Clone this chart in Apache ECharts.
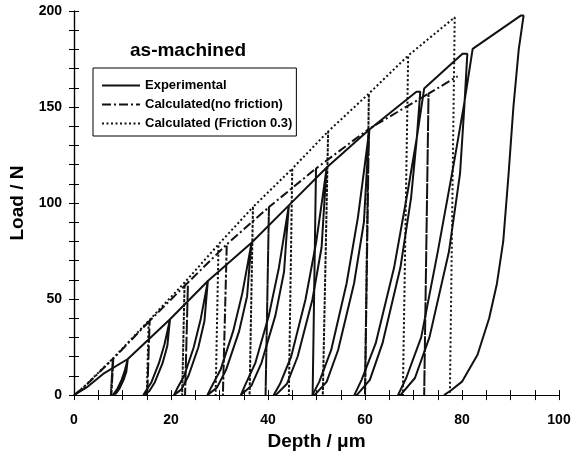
<!DOCTYPE html>
<html>
<head>
<meta charset="utf-8">
<script src="https://cdn.jsdelivr.net/npm/echarts@6/dist/echarts.min.js"></script>
<style>
  html, body { margin: 0; padding: 0; background: #fff; }
  #main { width: 583px; height: 456px; }
</style>
</head>
<body>
<div id="main"></div>
<script>
// experimental curve: start of loading, peaks, unloading and reloading branches (depth um, load N)
var expStart = [[0, 0], [2.6, 4], [6, 11]];
var expPeaks = [[11.1, 18.8], [19.8, 39.5], [27.6, 59.4], [36.6, 79.3], [44.3, 98.8],
    [52.1, 118.5], [60.9, 138.3], [70.6, 158], [80.1, 177.7], [92.1, 197.6]];
var expUnload = [
    [[10.96, 16.0], [10.79, 12.2], [10.23, 7.9], [9.33, 3.2], [8.68, 0.9], [8.0, 0]],
    [[19.55, 33.6], [19.25, 25.7], [18.26, 16.6], [16.67, 6.7], [15.51, 2.0], [14.3, 0]],
    [[27.29, 50.5], [26.90, 38.6], [25.64, 24.9], [23.61, 10.1], [22.14, 3.0], [20.6, 0]],
    [[36.19, 67.4], [35.69, 51.5], [34.05, 33.3], [31.41, 13.5], [29.5, 4.0], [27.5, 0]],
    [[43.85, 84.0], [43.31, 64.2], [41.53, 41.5], [38.66, 16.8], [36.58, 4.9], [34.4, 0]],
    [[51.63, 100.7], [51.05, 77.0], [49.16, 49.8], [46.12, 20.1], [43.91, 5.9], [41.6, 0]],
    [[60.39, 117.6], [59.77, 89.9], [57.74, 58.1], [54.46, 23.5], [52.09, 6.9], [49.6, 0]],
    [[71.4, 158], [70.7, 134.3], [69.5, 102.7], [67.3, 66.4], [63.6, 26.9], [61.0, 7.9], [58.3, 0]],
    [[81.1, 177.7], [80.5, 151], [79.6, 115.5], [77.3, 74.6], [73.3, 30.2], [70.3, 8.9], [67.3, 0]],
    [[92.7, 197.6], [91.7, 180], [90.6, 150], [89.6, 115], [88.5, 80], [87.2, 58], [85.6, 40],
        [83.2, 21], [80.0, 7], [77.7, 2.4], [76.3, 0]]
];
var expReload = [
    [[7.88, 0], [8.27, 0.9], [8.94, 3.2], [9.81, 7.9], [10.46, 12.6], [10.81, 16.0], [11.1, 18.8]],
    [[14.08, 0], [14.77, 2.0], [15.97, 6.7], [17.51, 16.6], [18.66, 26.5], [19.29, 33.6], [19.8, 39.5]],
    [[20.32, 0], [21.19, 3.0], [22.72, 10.1], [24.69, 24.9], [26.14, 39.8], [26.94, 50.5], [27.6, 59.4]],
    [[27.14, 0], [28.28, 4.0], [30.26, 13.5], [32.82, 33.3], [34.71, 53.1], [35.75, 67.4], [36.6, 79.3]],
    [[34.0, 0], [35.24, 4.9], [37.4, 16.8], [40.18, 41.5], [42.24, 66.2], [43.37, 84.0], [44.3, 98.8]],
    [[41.18, 0], [42.49, 5.9], [44.78, 20.1], [47.73, 49.8], [49.92, 79.4], [51.12, 100.7], [52.1, 118.5]],
    [[49.15, 0], [50.56, 6.9], [53.03, 23.5], [56.2, 58.1], [58.55, 92.7], [59.84, 117.6], [60.9, 138.3]],
    [[57.8, 0], [59.3, 7.9], [62.2, 26.9], [66.0, 66.4], [68.8, 105.9], [70.7, 134.3], [72.2, 159.6]],
    [[66.8, 0], [68.5, 8.9], [71.6, 30.2], [75.0, 74.6], [78.2, 119], [80.4, 151], [82.2, 180.3]],
    []
];

// calculated, friction 0.3: peak before each unloading and depth where it reaches zero load
var fricStart = [[0, 0], [2.0, 4.2]];
var fricPeaks = [[8.0, 19.0], [15.4, 38.7], [22.8, 58.6], [29.8, 78.5], [36.9, 97.9],
    [45.0, 117.9], [52.4, 137.3], [60.8, 157.0], [68.9, 176.8], [78.5, 196.7]];
var fricResidual = [7.6, 15.0, 22.3, 29.2, 36.2, 44.3, 51.3, 60.0, 67.8, 77.5];

// calculated, no friction
var noFricStart = [[0, 0], [2.0, 4.0]];
var noFricPeaks = [[8.1, 19.0], [15.6, 38.7], [23.5, 58.6], [31.5, 78.5], [40.2, 97.9],
    [49.9, 118.0], [60.8, 138.6], [73.1, 157.0]];
var noFricResidual = [7.7, 15.1, 22.9, 30.7, 39.5, 49.2, 60.0, 72.2];
var noFricEnd = [79.1, 166];

var names = ['Experimental', 'Calculated(no friction)', 'Calculated (Friction 0.3)'];

function buildExp() {
    var d = expStart.slice();
    for (var i = 0; i < expPeaks.length; i++) {
        d.push(expPeaks[i]);
        d = d.concat(expUnload[i], expReload[i]);
    }
    return d;
}
function buildCalc(start, peaks, res, end) {
    var d = start.slice();
    for (var i = 0; i < peaks.length; i++) {
        d.push(peaks[i]);
        d.push([res[i], 0]);
        if (i < peaks.length - 1 || end) d.push(peaks[i]);
    }
    if (end) d.push(end);
    return d;
}

var font = "'Liberation Sans', Arial, sans-serif";
var axisCommon = {
    min: 0,
    axisLine: { lineStyle: { color: '#000', width: 1.2 } },
    axisTick: { inside: true, length: 5, lineStyle: { color: '#000' } },
    splitLine: { show: false }
};

var myChart = echarts.init(document.getElementById('main'));
myChart.setOption({
    animation: false,
    backgroundColor: '#fff',
    title: {
        text: 'as-machined', left: 125, top: 36,
        textStyle: { fontFamily: font, fontWeight: 'bold', fontSize: 19, color: '#000' }
    },
    legend: {
        data: names, orient: 'vertical', left: 93, top: 68,
        backgroundColor: '#fff',
        borderColor: '#000', borderWidth: 1, borderRadius: 0,
        padding: [10, 4, 5, 8], itemGap: 4, itemWidth: 38, itemHeight: 14,
        itemStyle: { color: 'rgba(0,0,0,0)', borderWidth: 0, borderColor: 'rgba(0,0,0,0)' },
        textStyle: { fontFamily: font, fontWeight: 'bold', fontSize: 13, lineHeight: 15, color: '#000' }
    },
    grid: { left: 74, right: 24, top: 11, bottom: 58 },
    xAxis: [
        Object.assign({}, axisCommon, {
            type: 'value', max: 100, interval: 20,
            minorTick: { show: true, splitNumber: 4, length: 5, lineStyle: { color: '#000' } },
            name: 'Depth / μm', nameLocation: 'middle', nameGap: 21,
            nameTextStyle: { fontFamily: font, fontWeight: 'bold', fontSize: 19, color: '#000' },
            axisLabel: { margin: 18, fontFamily: font, fontWeight: 'bold', fontSize: 14, color: '#000' }
        }),
        Object.assign({}, axisCommon, {
            type: 'value', max: 100, interval: 20, position: 'top',
            minorTick: { show: true, splitNumber: 4, length: 5, lineStyle: { color: '#000' } },
            axisLabel: { show: false }
        })
    ],
    yAxis: [
        Object.assign({}, axisCommon, {
            type: 'value', max: 200, interval: 50,
            minorTick: { show: true, splitNumber: 5, length: 5, lineStyle: { color: '#000' } },
            name: 'Load / N', nameLocation: 'middle', nameGap: 40,
            nameTextStyle: { fontFamily: font, fontWeight: 'bold', fontSize: 19, color: '#000' },
            axisLabel: { margin: 12, fontFamily: font, fontWeight: 'bold', fontSize: 14, color: '#000' }
        }),
        Object.assign({}, axisCommon, {
            type: 'value', max: 200, interval: 50, position: 'right',
            minorTick: { show: true, splitNumber: 5, length: 5, lineStyle: { color: '#000' } },
            axisLabel: { show: false }
        })
    ],
    series: [
        {
            name: names[0], type: 'line', symbol: 'none', data: buildExp(),
            lineStyle: { color: '#111', width: 2 }, itemStyle: { color: '#111' }
        },
        {
            name: names[1], type: 'line', symbol: 'none',
            data: buildCalc(noFricStart, noFricPeaks, noFricResidual, noFricEnd),
            lineStyle: { color: '#111', width: 2, type: [9, 3, 2, 3] }, itemStyle: { color: '#111' }
        },
        {
            name: names[2], type: 'line', symbol: 'none',
            data: buildCalc(fricStart, fricPeaks, fricResidual, null),
            lineStyle: { color: '#111', width: 2, type: [2, 2.5] }, itemStyle: { color: '#111' }
        }
    ]
});
</script>
</body>
</html>
